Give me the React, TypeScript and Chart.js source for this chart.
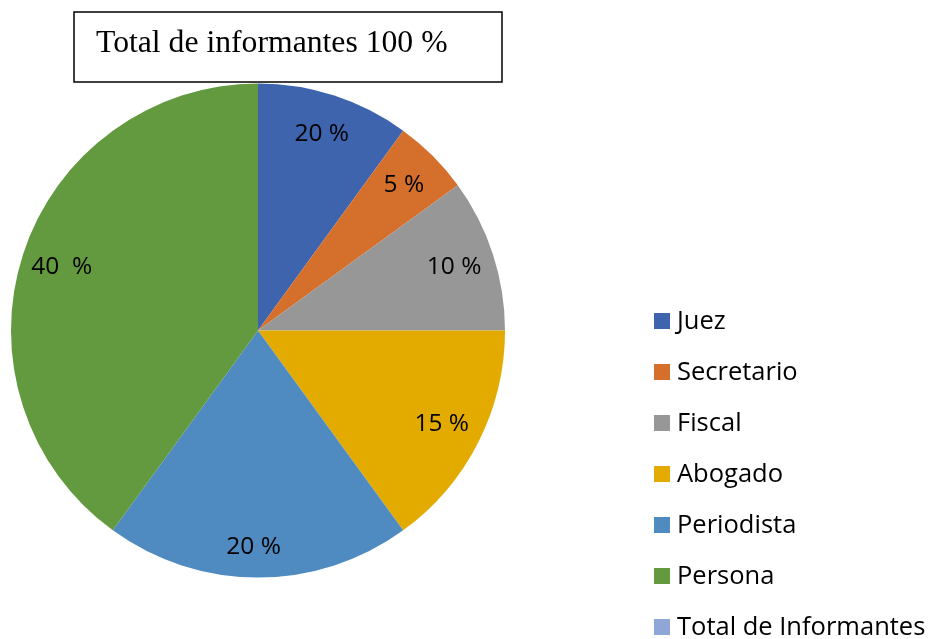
import React, { useEffect, useRef } from "react";
import { Chart, registerables } from "chart.js";

Chart.register(...registerables);

const categories = ["Juez", "Secretario", "Fiscal", "Abogado", "Periodista", "Persona", "Total de Informantes"];
const values = [10, 5, 10, 15, 20, 40, 0];
const valueLabels = ["20 %", "5 %", "10 %", "15 %", "20 %", "40  %", ""];
const colors = ["#3E64AD", "#D4702B", "#979797", "#E3AB00", "#4F8BC0", "#639A3F", "#8FA6D6"];
const titleText = "Total de informantes 100 %";

const FONT = "'Open Sans', sans-serif";

const labelPlugin = {
  id: "customDraw",
  afterDatasetsDraw(chart: any) {
    const ctx = chart.ctx;
    const meta = chart.getDatasetMeta(0);
    ctx.save();
    ctx.fillStyle = "#000";
    ctx.font = `24.5px ${FONT}`;
    ctx.textAlign = "center";
    ctx.textBaseline = "middle";
    meta.data.forEach((arc: any, i: number) => {
      const t = valueLabels[i];
      if (!t) return;
      const p = arc.getProps(["x", "y", "startAngle", "endAngle", "outerRadius"], true);
      const mid = (p.startAngle + p.endAngle) / 2 + (i === 4 ? 0.02 : 0);
      const r = p.outerRadius * (i === 4 ? 0.875 : 0.835);
      ctx.fillText(t, p.x + Math.cos(mid) * r, p.y + Math.sin(mid) * r);
    });
    ctx.restore();
  },
  afterDraw(chart: any) {
    const ctx = chart.ctx;
    ctx.save();
    // title box
    ctx.strokeStyle = "#000";
    ctx.lineWidth = 1.5;
    ctx.fillStyle = "#fff";
    ctx.fillRect(74, 12, 428, 70);
    ctx.strokeRect(74, 12, 428, 70);
    ctx.fillStyle = "#000";
    ctx.font = "31.7px 'Liberation Serif', 'Times New Roman', serif";
    ctx.textAlign = "left";
    ctx.textBaseline = "alphabetic";
    ctx.fillText(titleText, 96, 52);
    // legend
    ctx.font = `25.5px ${FONT}`;
    ctx.textBaseline = "middle";
    categories.forEach((c, i) => {
      const cy = 321 + i * 51;
      ctx.fillStyle = colors[i];
      ctx.fillRect(654, cy - 8, 16, 16);
      ctx.fillStyle = "#000";
      ctx.fillText(c, 677, cy + 1);
    });
    ctx.restore();
  },
};

export default function App() {
  const ref = useRef<HTMLCanvasElement>(null);
  useEffect(() => {
    if (!ref.current) return;
    const chart = new Chart(ref.current, {
      type: "pie",
      data: {
        labels: categories,
        datasets: [
          {
            data: values,
            backgroundColor: colors,
            borderWidth: 0,
          },
        ],
      },
      options: {
        animation: false,
        responsive: false,
        layout: { padding: { left: 11, right: 426, top: 83, bottom: 61 } },
        plugins: {
          legend: { display: false },
          tooltip: { enabled: false },
          title: { display: false },
        },
      },
      plugins: [labelPlugin],
    });
    return () => chart.destroy();
  }, []);
  return (
    <div style={{ position: "absolute", left: 0, top: 0, width: 931, height: 639, background: "#fff" }}>
      <canvas ref={ref} width={931} height={639} style={{ display: "block" }} />
    </div>
  );
}
